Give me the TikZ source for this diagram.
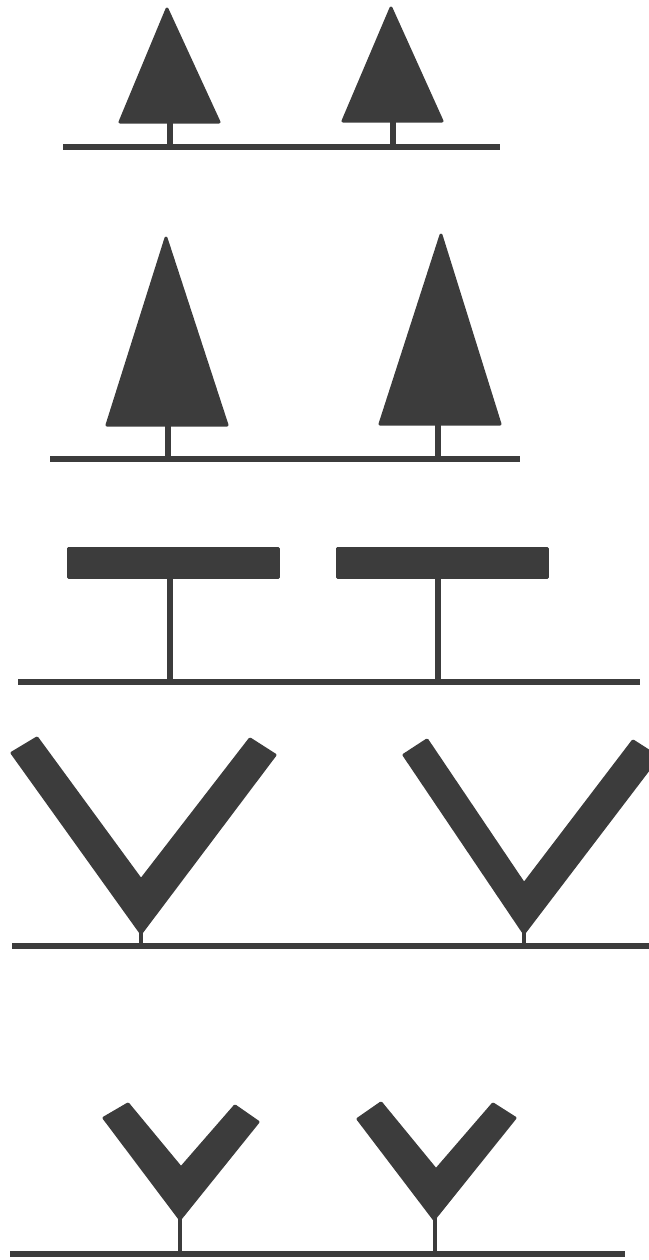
\documentclass[tikz,border=0pt]{standalone}
\usepackage{xcolor}
\usepackage{tikz}

\definecolor{ink}{RGB}{60,60,60}

\begin{document}
\begin{tikzpicture}[
        x=0.1mm, y=-0.1mm,
        crown/.style={fill=ink, draw=ink, line width=0.3mm, line join=round},
        stem/.style={draw=ink, line width=0.6mm},
        thinstem/.style={draw=ink, line width=0.45mm},
        ground/.style={draw=ink, line width=0.6mm}
        ]
        \useasboundingbox (0,0) rectangle (649,1260);
        \clip (0,0) rectangle (649,1260);

        % row 1: small cones
        \draw[ground] (63,147) -- (500,147);
        \draw[stem] (170,147) -- (170,121);
        \draw[stem] (393,147) -- (393,120);
        \filldraw[crown] (167,9) -- (219,122) -- (120,122) -- cycle;
        \filldraw[crown] (391,8) -- (442,121) -- (343,121) -- cycle;

        % row 2: tall cones
        \draw[ground] (50,459) -- (520,459);
        \draw[stem] (168,459) -- (168,424);
        \draw[stem] (438,459) -- (438,423);
        \filldraw[crown] (166,238) -- (227,425) -- (107,425) -- cycle;
        \filldraw[crown] (441,235) -- (500,424) -- (380,424) -- cycle;

        % row 3: flat tops
        \draw[ground] (18,682) -- (640,682);
        \draw[stem] (170,682) -- (170,576);
        \draw[stem] (438,682) -- (438,576);
        \filldraw[crown] (68,548) rectangle (278,577);
        \filldraw[crown] (337,548) rectangle (547,577);

        % row 4: wide V shapes
        \draw[ground] (12,946) -- (649,946);
        \draw[thinstem] (141,946) -- (141,930);
        \draw[thinstem] (524,946) -- (524,930);
        \filldraw[crown] (12,753) -- (37,738) -- (141,880) -- (250,739) -- (275,755)
            -- (141,933) -- cycle;
        \filldraw[crown] (404,755) -- (427,740) -- (524,884) -- (633,741) -- (658,757)
            -- (524,933) -- cycle;

        % row 5: small Y shapes
        \draw[ground] (10,1254) -- (625,1254);
        \draw[thinstem] (180,1254) -- (180,1215);
        \draw[thinstem] (435,1254) -- (435,1215);
        \filldraw[crown] (104,1118) -- (128,1104) -- (181,1168) -- (235,1106) -- (258,1122)
            -- (180,1219) -- cycle;
        \filldraw[crown] (358,1119) -- (381,1103) -- (436,1170) -- (493,1104) -- (515,1118)
            -- (434,1219) -- cycle;
\end{tikzpicture}
\end{document}
